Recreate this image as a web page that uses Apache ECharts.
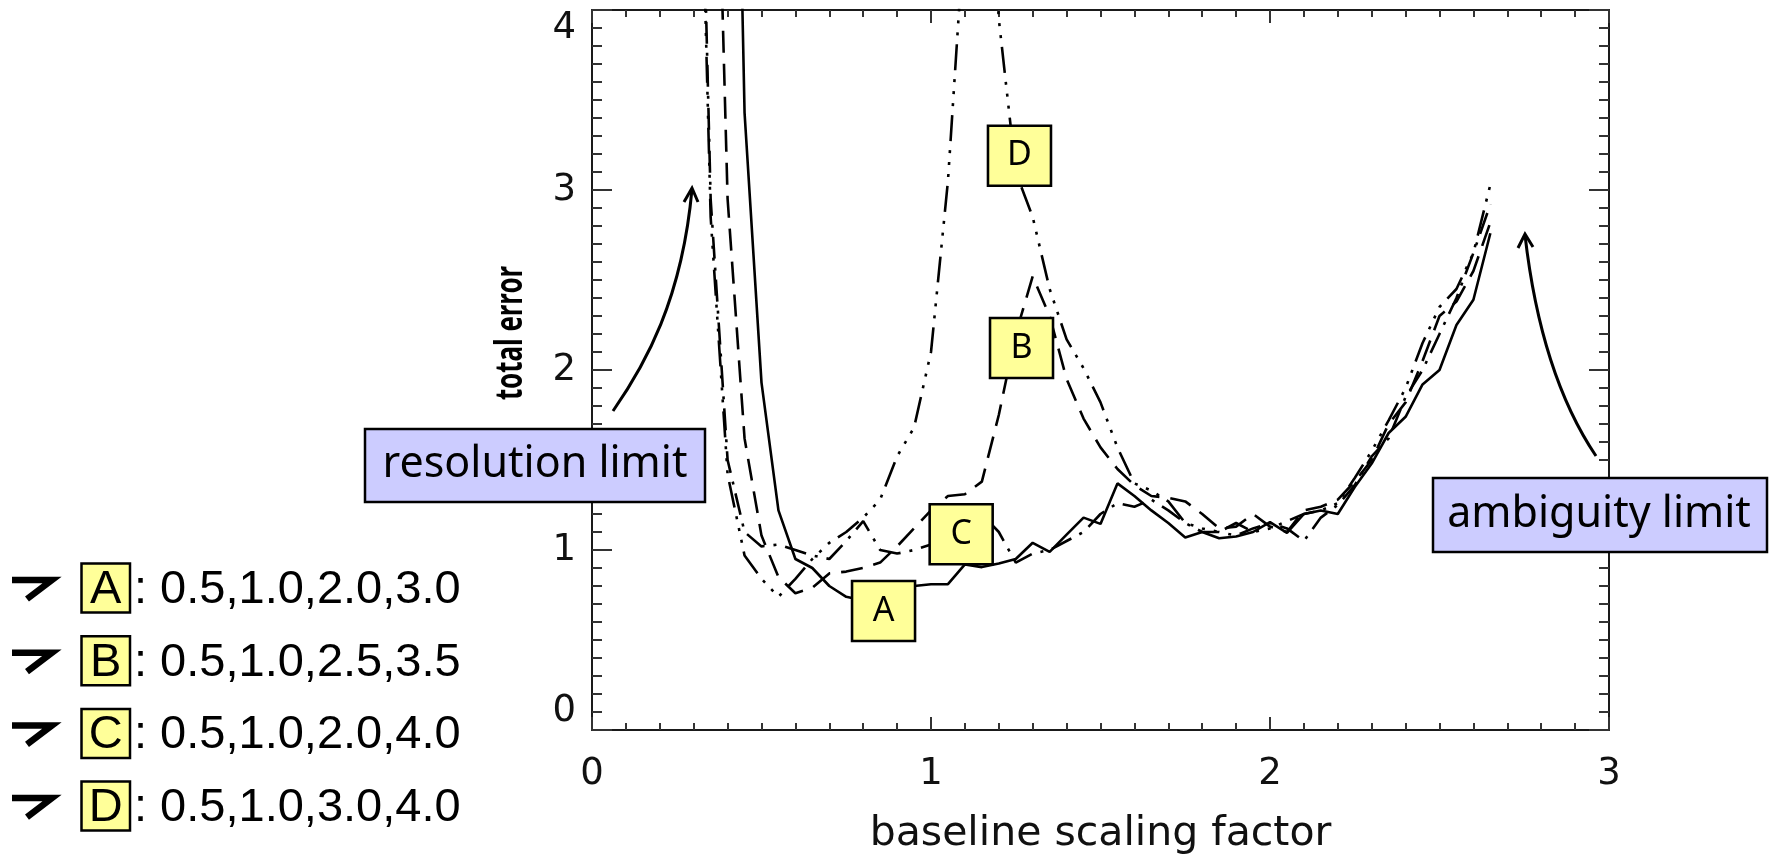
<!DOCTYPE html>
<html>
<head>
<meta charset="utf-8">
<title>total error</title>
<script src="https://cdn.jsdelivr.net/npm/echarts@6.0.0/dist/echarts.min.js"></script>
<style>
    html, body { margin: 0; padding: 0; background: #fff; }
    #main { width: 1770px; height: 854px; }
</style>
</head>
<body>
<div id="main"></div>
<script type="text/javascript">
    // baseline scaling factor samples
    var scale = [0.30, 0.35, 0.40, 0.45, 0.50, 0.55, 0.60, 0.65, 0.70, 0.75,
                 0.80, 0.85, 0.90, 0.95, 1.00, 1.05, 1.10, 1.15, 1.20, 1.25,
                 1.30, 1.35, 1.40, 1.45, 1.50, 1.55, 1.60, 1.65, 1.70, 1.75,
                 1.80, 1.85, 1.90, 1.95, 2.00, 2.05, 2.10, 2.15, 2.20, 2.25,
                 2.30, 2.35, 2.40, 2.45, 2.50, 2.55, 2.60, 2.65];

    // total error for the four baseline sets
    var errA = [null, null, 8.0, 3.43, 1.93, 1.22, 0.95, 0.90, 0.80, 0.74,
                0.72, 0.73, 0.77, 0.80, 0.81, 0.81, 0.92, 0.905, 0.925, 0.95,
                1.04, 0.99, 1.085, 1.18, 1.145, 1.37, 1.30, 1.22, 1.15, 1.07,
                1.10, 1.065, 1.075, 1.10, 1.155, 1.095, 1.20, 1.22, 1.20, 1.35,
                1.48, 1.65, 1.74, 1.92, 2.00, 2.25, 2.39, 2.76];
    var errB = [null, 6.45, 2.95, 1.62, 1.08, 0.85, 0.76, 0.79, 0.87, 0.88,
                0.90, 0.93, 1.02, 1.12, 1.22, 1.30, 1.31, 1.38, 1.75, 2.20,
                2.52, 2.30, 1.95, 1.73, 1.57, 1.45, 1.36, 1.30, 1.29, 1.27,
                1.20, 1.12, 1.13, 1.20, 1.13, 1.10, 1.22, 1.24, 1.28, 1.38,
                1.50, 1.70, 1.82, 2.05, 2.30, 2.38, 2.55, 2.82];
    var errC = [6.8, 2.95, 1.50, 1.10, 1.02, 1.03, 1.00, 0.97, 0.95, 1.05,
                1.16, 1.00, 0.98, 1.00, 1.03, 1.12, 1.20, 1.20, 1.10, 0.93,
                0.98, 1.00, 1.05, 1.10, 1.20, 1.26, 1.24, 1.28, 1.22, 1.15,
                1.10, 1.10, 1.08, 1.12, 1.15, 1.12, 1.05, 1.18, 1.25, 1.36,
                1.52, 1.62, 1.85, 2.00, 2.20, 2.40, 2.65, 2.92];
    var errD = [6.5, 2.85, 1.42, 0.97, 0.84, 0.74, 0.84, 0.95, 1.04, 1.10,
                1.18, 1.28, 1.52, 1.68, 2.10, 3.05, 4.50, 5.50, 3.95, 3.10,
                2.85, 2.45, 2.17, 2.01, 1.82, 1.57, 1.37, 1.33, 1.27, 1.15,
                1.12, 1.10, 1.15, 1.10, 1.12, 1.16, 1.20, 1.22, 1.26, 1.40,
                1.55, 1.72, 1.90, 2.15, 2.35, 2.45, 2.65, 3.03];

    // legend texts on the left
    var setKeys = ['A', 'B', 'C', 'D'];
    var setBaselines = ['0.5,1.0,2.0,3.0', '0.5,1.0,2.5,3.5', '0.5,1.0,2.0,4.0', '0.5,1.0,3.0,4.0'];

    function pairs(ys) {
        var out = [];
        for (var i = 0; i < scale.length; i++) {
            out.push([scale[i], ys[i]]);
        }
        return out;
    }

    var axisFont = 'DejaVu Sans';
    var boxColor = '#1a1a1a';
    var tickColor = '#333';

    function xAxisOf(pos, withLabels) {
        return {
            type: 'value', min: 0, max: 3, interval: 1, position: pos,
            axisLine: { show: true, onZero: false, lineStyle: { color: boxColor, width: 2 } },
            axisTick: { show: true, inside: true, length: 13, lineStyle: { color: tickColor, width: 2 } },
            minorTick: { show: true, splitNumber: 10, length: 7, lineStyle: { color: tickColor, width: 2 } },
            splitLine: { show: false },
            minorSplitLine: { show: false },
            axisLabel: { show: withLabels, margin: 26, color: '#111', fontSize: 37, fontFamily: axisFont },
            name: withLabels ? 'baseline scaling factor' : '',
            nameLocation: 'middle',
            nameGap: 84,
            nameTextStyle: { color: '#111', fontSize: 41, fontFamily: axisFont }
        };
    }

    function yAxisOf(pos, withLabels) {
        return {
            type: 'value', min: 0, max: 4, interval: 1, position: pos,
            axisLine: { show: true, onZero: false, lineStyle: { color: boxColor, width: 2 } },
            axisTick: { show: true, inside: true, length: 20, lineStyle: { color: tickColor, width: 2 } },
            minorTick: { show: true, splitNumber: 10, length: 10, lineStyle: { color: tickColor, width: 2 } },
            splitLine: { show: false },
            minorSplitLine: { show: false },
            axisLabel: {
                show: withLabels, margin: 16, color: '#111', fontSize: 37, fontFamily: axisFont,
                verticalAlignMaxLabel: 'top', verticalAlignMinLabel: 'bottom'
            }
        };
    }

    function curve(name, ys, dash) {
        return {
            name: name,
            type: 'line',
            data: pairs(ys),
            showSymbol: false,
            symbol: 'none',
            clip: true,
            lineStyle: { color: '#000', width: 2.6, type: dash, cap: 'butt' },
            z: 2
        };
    }

    // static annotations (pixel positions on the 1770x854 page)
    var graphics = [];

    graphics.push({
        type: 'text', x: 511, y: 333, rotation: Math.PI / 2, scaleX: 0.68, z: 100,
        style: { text: 'total error', fontSize: 38, fontWeight: 'bold', fontFamily: 'Noto Sans',
                 fill: '#000', align: 'center', verticalAlign: 'middle' }
    });

    // resolution limit box + arrow
    graphics.push({
        type: 'rect', z: 100, shape: { x: 365, y: 429, width: 340, height: 73 },
        style: { fill: '#CCCCFF', stroke: '#000', lineWidth: 2.5 }
    });
    graphics.push({
        type: 'text', x: 535, y: 465, z: 101,
        style: { text: 'resolution limit', fontSize: 43, fontFamily: 'Noto Sans', fill: '#000',
                 align: 'center', verticalAlign: 'middle' }
    });
    graphics.push({
        type: 'bezierCurve', z: 100,
        shape: { x1: 613, y1: 411, cpx1: 645, cpy1: 365, cpx2: 682, cpy2: 300, x2: 692, y2: 189 },
        style: { stroke: '#000', lineWidth: 3, fill: null }
    });
    graphics.push({
        type: 'polyline', z: 100,
        shape: { points: [[684, 202], [692, 188], [698, 202]] },
        style: { stroke: '#000', lineWidth: 3, fill: null }
    });

    // ambiguity limit box + arrow
    graphics.push({
        type: 'rect', z: 100, shape: { x: 1433, y: 478, width: 334, height: 74 },
        style: { fill: '#CCCCFF', stroke: '#000', lineWidth: 2.5 }
    });
    graphics.push({
        type: 'text', x: 1599, y: 515, z: 101,
        style: { text: 'ambiguity limit', fontSize: 43, fontFamily: 'Noto Sans', fill: '#000',
                 align: 'center', verticalAlign: 'middle' }
    });
    graphics.push({
        type: 'bezierCurve', z: 100,
        shape: { x1: 1596, y1: 456, cpx1: 1565, cpy1: 410, cpx2: 1537, cpy2: 340, x2: 1525, y2: 235 },
        style: { stroke: '#000', lineWidth: 3, fill: null }
    });
    graphics.push({
        type: 'polyline', z: 100,
        shape: { points: [[1518, 248], [1525, 234], [1533, 247]] },
        style: { stroke: '#000', lineWidth: 3, fill: null }
    });

    // legend rows
    for (var i = 0; i < setKeys.length; i++) {
        var cy = 588 + i * 72.7;
        graphics.push({
            type: 'polyline', z: 100,
            shape: { points: [[12, cy - 8], [52, cy - 8], [27, cy + 11]] },
            style: { stroke: '#000', lineWidth: 6.5, fill: null, lineJoin: 'miter' }
        });
        graphics.push({
            type: 'rect', z: 100, shape: { x: 81.5, y: cy - 24.5, width: 48.5, height: 49 },
            style: { fill: '#FFFF99', stroke: '#000', lineWidth: 2.5 }
        });
        graphics.push({
            type: 'text', x: 105.7, y: cy + 2, z: 101,
            style: { text: setKeys[i], fontSize: 47, fontFamily: 'Liberation Sans', fill: '#000',
                     align: 'center', verticalAlign: 'middle' }
        });
        graphics.push({
            type: 'text', x: 134, y: cy + 2, z: 101,
            style: { text: ': ' + setBaselines[i], fontSize: 47, fontFamily: 'Liberation Sans', fill: '#000',
                     align: 'left', verticalAlign: 'middle' }
        });
    }

    var chart = echarts.init(document.getElementById('main'));

    var option = {
        animation: false,
        backgroundColor: '#fff',
        grid: { left: 592, top: 10, width: 1017, height: 720, containLabel: false, outerBoundsMode: 'none' },
        xAxis: [xAxisOf('bottom', true), xAxisOf('top', false)],
        yAxis: [yAxisOf('left', true), yAxisOf('right', false)],
        series: [
            curve('A', errA, 'solid'),
            curve('B', errB, [22, 11]),
            curve('C', errC, [22, 9, 3, 9]),
            curve('D', errD, [26, 9, 3, 9, 3, 9, 3, 9]),
            {
                // curve tags A-D
                name: 'tags',
                type: 'scatter',
                z: 10,
                symbol: 'rect',
                symbolSize: [63, 60],
                itemStyle: { color: '#FFFF99', borderColor: '#000', borderWidth: 2.5, opacity: 1 },
                label: { show: true, position: 'inside', formatter: '{b}', fontSize: 34,
                         fontFamily: 'Noto Sans', color: '#000' },
                emphasis: { disabled: true },
                data: [
                    { name: 'A', value: [0.86, 0.661] },
                    { name: 'B', value: [1.267, 2.122] },
                    { name: 'C', value: [1.089, 1.088] },
                    { name: 'D', value: [1.261, 3.19] }
                ]
            }
        ],
        graphic: graphics
    };

    chart.setOption(option);
</script>
</body>
</html>
